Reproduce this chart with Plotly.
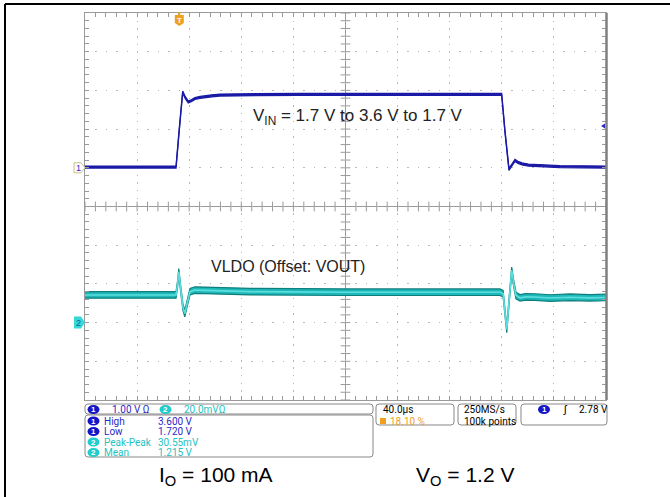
import numpy as np
import plotly.graph_objects as go

W, H = 670, 497
PL, PR, PT, PB = 85, 606, 13, 400   # graticule box in pixels

# ---------------- scope settings ----------------
TIME_DIV_US = 40.0
TRIG_FRAC = 0.181
T_LEFT = -TRIG_FRAC * 10 * TIME_DIV_US
T_RIGHT = T_LEFT + 10 * TIME_DIV_US
T_CENTER = (T_LEFT + T_RIGHT) / 2

CH1_SCALE, CH1_OFFSET, CH1_POS = 1.0, 1.7, 1.0      # V/div, V, div
CH2_SCALE, CH2_OFFSET, CH2_POS = 0.02, 1.2, -3.0
TRIG_LEVEL = 2.78

# ---------------- data ----------------
ch1_t = [-72.4, -2.5, 0.0, 2.6, 4.5, 6.9, 9.5, 12.0, 16.0, 19.7, 25.0, 31.2, 40.0,
         54.3, 92.7, 150.0, 200.0, 247.5, 250.0, 253.1, 255.5, 257.7, 260.0,
         263.1, 268.0, 276.9, 292.3, 310.0, 327.6]
ch1_v = [1.72, 1.72, 2.70, 3.66, 3.52, 3.40, 3.44, 3.49, 3.52, 3.54, 3.56, 3.58, 3.585,
         3.59, 3.60, 3.60, 3.60, 3.60, 2.65, 1.66, 1.78, 1.89, 1.84,
         1.80, 1.77, 1.75, 1.73, 1.725, 1.72]

ch2_t = [-72.4, -30.0, -2.5, -1.3, -0.4, 1.3, 2.8, 4.2, 5.6, 7.0, 8.2, 12.0, 23.6,
         54.3, 127.2, 200.0, 246.2, 248.6, 250.0, 251.4, 253.3, 255.2, 256.8,
         258.5, 261.6, 266.0, 273.1, 284.6, 300.0, 315.3, 327.6]
ch2_v = [1.2143, 1.2145, 1.2143, 1.2200, 1.2262, 1.2160, 1.2080, 1.2047, 1.2085, 1.2135,
         1.2160, 1.2168, 1.2165, 1.2160, 1.2157, 1.2157, 1.2157, 1.2150, 1.2060, 1.1965,
         1.2120, 1.2270, 1.2200, 1.2140, 1.2128, 1.2133, 1.2132, 1.2127, 1.2131, 1.2128, 1.2130]

# readout values
ch1_scale_txt = "1.00 V"
ch2_scale_txt = "20.0mV"
meas_names = ["High", "Low", "Peak-Peak", "Mean"]
meas_ch = [1, 1, 2, 2]
meas_vals = ["3.600 V", "1.720 V", "30.55mV", "1.215 V"]
timebase_txt = "40.0µs"
trig_pos_txt = "18.10 %"
rate_txt = "250MS/s"
points_txt = "100k points"
trig_lvl_txt = "2.78 V"

# styles
CH1_BAND = 0.025     # V, half-thickness of trace fuzz
CH2_BAND = 0.0017    # V
BLUE = "#1a1aa6"
BLUE_T = "#2a2ac8"
CYAN_T = "#1fc2c2"
ORANGE = "#f0a020"
GRID = "#b8b8b8"
AXC = "#9a9a9a"
RFONT = "Roboto, Liberation Sans"


def px(x):
    return x / W


def py(y):
    return 1 - y / H


fig = go.Figure()

# center cross ticks (graticule decoration)
xt = np.arange(T_LEFT, T_RIGHT + 1e-6, TIME_DIV_US / 5)
y_center_ch1 = CH1_OFFSET - CH1_POS * CH1_SCALE
fig.add_trace(go.Scatter(x=xt, y=[y_center_ch1] * len(xt), mode="markers",
                         marker=dict(symbol="line-ns", size=7, line=dict(color=AXC, width=1)),
                         hoverinfo="skip", showlegend=False))
y_lo = CH1_OFFSET + (-5 - CH1_POS) * CH1_SCALE
y_hi = CH1_OFFSET + (5 - CH1_POS) * CH1_SCALE
yt = np.arange(y_lo, y_hi + 1e-6, CH1_SCALE / 5)
fig.add_trace(go.Scatter(x=[T_CENTER] * len(yt), y=yt, mode="markers",
                         marker=dict(symbol="line-ew", size=7, line=dict(color=AXC, width=1)),
                         hoverinfo="skip", showlegend=False))

# Channel 2: noise envelope band + bright centre
c2 = np.array(ch2_v)
fig.add_trace(go.Scatter(x=ch2_t, y=c2 - CH2_BAND, yaxis="y2", mode="lines",
                         line=dict(color="#0e7e7e", width=1.2), hoverinfo="skip", showlegend=False))
fig.add_trace(go.Scatter(x=ch2_t, y=c2 + CH2_BAND, yaxis="y2", mode="lines", fill="tonexty",
                         fillcolor="#1fb8b8",
                         line=dict(color="#0e7e7e", width=1.2), hoverinfo="skip", showlegend=False))
fig.add_trace(go.Scatter(x=ch2_t, y=c2, yaxis="y2", mode="lines",
                         line=dict(color="#5cdede", width=1.6), hoverinfo="skip", showlegend=False))

# Channel 1
c1 = np.array(ch1_v)
fig.add_trace(go.Scatter(x=ch1_t, y=c1 - CH1_BAND, mode="lines",
                         line=dict(color=BLUE, width=1.3), hoverinfo="skip", showlegend=False))
fig.add_trace(go.Scatter(x=ch1_t, y=c1 + CH1_BAND, mode="lines", fill="tonexty", fillcolor=BLUE,
                         line=dict(color=BLUE, width=1.3), hoverinfo="skip", showlegend=False))

fig.update_layout(
    width=W, height=H, autosize=False,
    margin=dict(l=0, r=0, t=0, b=0),
    paper_bgcolor="white", plot_bgcolor="white",
    showlegend=False,
    xaxis=dict(domain=[px(PL), px(PR)], range=[T_LEFT, T_RIGHT],
               tick0=T_LEFT, dtick=TIME_DIV_US,
               showgrid=True, gridcolor=GRID, gridwidth=1.2, griddash="1.4px,6.3px",
               zeroline=False, showticklabels=False,
               showline=True, linecolor=AXC, linewidth=1, mirror="allticks",
               ticks="inside", ticklen=4, tickcolor=AXC,
               minor=dict(dtick=TIME_DIV_US / 5, tick0=T_LEFT, ticks="inside",
                          ticklen=4, tickcolor=AXC, showgrid=False)),
    yaxis=dict(domain=[py(PB), py(PT)], range=[y_lo, y_hi],
               tick0=y_lo, dtick=CH1_SCALE,
               showgrid=True, gridcolor=GRID, gridwidth=1.2, griddash="1.4px,9px",
               zeroline=False, showticklabels=False,
               showline=True, linecolor=AXC, linewidth=1, mirror="allticks",
               ticks="inside", ticklen=4, tickcolor=AXC,
               minor=dict(dtick=CH1_SCALE / 5, tick0=y_lo, ticks="inside",
                          ticklen=4, tickcolor=AXC, showgrid=False)),
    yaxis2=dict(overlaying="y", range=[CH2_OFFSET + (-5 - CH2_POS) * CH2_SCALE,
                                       CH2_OFFSET + (5 - CH2_POS) * CH2_SCALE],
                visible=False),
)

shapes = []
annos = []

# center cross lines
shapes.append(dict(type="line", xref="x", yref="y", x0=T_LEFT, x1=T_RIGHT,
                   y0=y_center_ch1, y1=y_center_ch1, line=dict(color=AXC, width=1), layer="below"))
shapes.append(dict(type="line", xref="x", yref="y", x0=T_CENTER, x1=T_CENTER,
                   y0=y_lo, y1=y_hi, line=dict(color=AXC, width=1), layer="below"))
# heavier right edge
shapes.append(dict(type="line", xref="paper", yref="paper", x0=px(PR + 0.5), x1=px(PR + 0.5),
                   y0=py(PT), y1=py(PB), line=dict(color="#808080", width=2.5)))

# outer frame
shapes.append(dict(type="line", xref="paper", yref="paper", x0=px(5), x1=1, y0=py(4), y1=py(4),
                   line=dict(color="black", width=2)))
shapes.append(dict(type="line", xref="paper", yref="paper", x0=px(5), x1=px(5), y0=py(4), y1=0,
                   line=dict(color="black", width=2)))


def path_px(pts, close=True):
    s = "M " + " L ".join(f"{px(a):.5f},{py(b):.5f}" for a, b in pts)
    return s + (" Z" if close else "")


def rrect(x0, y0, x1, y1, r=3, color="#888", width=1):
    def P(a, b):
        return f"{px(a):.5f},{py(b):.5f}"
    d = (f"M {P(x0 + r, y0)} L {P(x1 - r, y0)} Q {P(x1, y0)} {P(x1, y0 + r)} "
         f"L {P(x1, y1 - r)} Q {P(x1, y1)} {P(x1 - r, y1)} L {P(x0 + r, y1)} "
         f"Q {P(x0, y1)} {P(x0, y1 - r)} L {P(x0, y0 + r)} Q {P(x0, y0)} {P(x0 + r, y0)} Z")
    shapes.append(dict(type="path", xref="paper", yref="paper", path=d,
                       line=dict(color=color, width=width), fillcolor="rgba(0,0,0,0)"))


def badge(cx, cy, txt, fill, w=12, h=9, tcol="white"):
    shapes.append(dict(type="circle", xref="paper", yref="paper",
                       x0=px(cx - w / 2), x1=px(cx + w / 2), y0=py(cy + h / 2), y1=py(cy - h / 2),
                       fillcolor=fill, line=dict(color=fill, width=0)))
    annos.append(dict(xref="paper", yref="paper", x=px(cx), y=py(cy), text=f"<b>{txt}</b>",
                      showarrow=False, xanchor="center", yanchor="middle",
                      font=dict(family="Liberation Sans", size=8, color=tcol)))


def txt(x, y, s, color, size=10, family=RFONT, anchor="left"):
    annos.append(dict(xref="paper", yref="paper", x=px(x), y=py(y), text=s, showarrow=False,
                      xanchor=anchor, yanchor="middle", font=dict(family=family, size=size, color=color)))


# trigger position marker (top)
tx = PL + (0 - T_LEFT) / (T_RIGHT - T_LEFT) * (PR - PL)
shapes.append(dict(type="path", xref="paper", yref="paper",
                   path=path_px([(tx - 4.5, 15), (tx + 4.5, 15), (tx + 4.5, 23), (tx, 26), (tx - 4.5, 23)]),
                   fillcolor=ORANGE, line=dict(color=ORANGE, width=0)))
shapes.append(dict(type="line", xref="paper", yref="paper", x0=px(tx), x1=px(tx), y0=py(12), y1=py(15),
                   line=dict(color=ORANGE, width=2)))
annos.append(dict(xref="paper", yref="paper", x=px(tx), y=py(20), text="<b>T</b>", showarrow=False,
                  xanchor="center", yanchor="middle", font=dict(family="Liberation Sans", size=8, color="white")))


def ypix_ch1(v):
    div = CH1_POS + (v - CH1_OFFSET) / CH1_SCALE
    return PT + (5 - div) / 10 * (PB - PT)


# channel position markers (left)
c1y = ypix_ch1(CH1_OFFSET)
shapes.append(dict(type="path", xref="paper", yref="paper",
                   path=path_px([(74, c1y - 5), (81, c1y - 5), (85, c1y), (81, c1y + 5), (74, c1y + 5)]),
                   fillcolor="white", line=dict(color="#c8c090", width=1)))
annos.append(dict(xref="paper", yref="paper", x=px(78), y=py(c1y), text="1", showarrow=False,
                  xanchor="center", yanchor="middle", font=dict(family="Liberation Sans", size=9, color=BLUE_T)))
c2y = PT + (5 - CH2_POS) / 10 * (PB - PT)
shapes.append(dict(type="path", xref="paper", yref="paper",
                   path=path_px([(74, c2y - 6), (81, c2y - 6), (85, c2y), (81, c2y + 6), (74, c2y + 6)]),
                   fillcolor="#38d8d8", line=dict(color="#38d8d8", width=0)))
annos.append(dict(xref="paper", yref="paper", x=px(78.5), y=py(c2y), text="2", showarrow=False,
                  xanchor="center", yanchor="middle", font=dict(family="Liberation Sans", size=9, color="#1060a0")))

# trigger level arrow (right)
tly = ypix_ch1(TRIG_LEVEL)
shapes.append(dict(type="path", xref="paper", yref="paper",
                   path=path_px([(601, tly), (605, tly - 2.5), (605, tly + 2.5)]),
                   fillcolor=BLUE_T, line=dict(color=BLUE_T, width=0)))

# waveform labels
annos.append(dict(xref="paper", yref="paper", x=px(251), y=py(117),
                  text="V<sub>IN</sub> = 1.7 V to 3.6 V to 1.7 V", showarrow=False,
                  xanchor="left", yanchor="middle",
                  font=dict(family="Liberation Sans", size=17, color="#222")))
annos.append(dict(xref="paper", yref="paper", x=px(209), y=py(266),
                  text="VLDO (Offset: VOUT)", showarrow=False, xanchor="left", yanchor="middle",
                  font=dict(family="Liberation Sans", size=16, color="#222")))
annos.append(dict(xref="paper", yref="paper", x=px(157), y=py(476),
                  text="I<sub>O</sub> = 100 mA", showarrow=False, xanchor="left", yanchor="middle",
                  font=dict(family="Liberation Sans", size=21, color="black")))
annos.append(dict(xref="paper", yref="paper", x=px(414), y=py(476),
                  text="V<sub>O</sub> = 1.2 V", showarrow=False, xanchor="left", yanchor="middle",
                  font=dict(family="Liberation Sans", size=21, color="black")))

# ---------------- readout panel ----------------
rrect(85, 404, 373, 414, r=3)
rrect(85, 415, 373, 457, r=3)
rrect(376, 404, 454, 425, r=3)
rrect(458, 404, 516, 425, r=3)
rrect(521, 404, 607, 425, r=3)

row1 = 409.5
badge(93.5, row1, "1", "#1515c8")
txt(110, row1, ch1_scale_txt + " Ω", BLUE_T)
badge(165.5, row1, "2", "#20cccc")
txt(182, row1, ch2_scale_txt + "Ω", CYAN_T)

rows_y = [421, 431.5, 442, 452.5]
for ry, name, ch, val in zip(rows_y, meas_names, meas_ch, meas_vals):
    col = BLUE_T if ch == 1 else CYAN_T
    badge(93.5, ry, str(ch), "#1515c8" if ch == 1 else "#20cccc")
    txt(102, ry, name, col)
    txt(156, ry, val, col)

txt(381, row1, timebase_txt, "black")
shapes.append(dict(type="rect", xref="paper", yref="paper", x0=px(380), x1=px(386),
                   y0=py(424), y1=py(418), fillcolor=ORANGE, line=dict(width=0)))
txt(388, 421, trig_pos_txt, ORANGE)
txt(462, row1, rate_txt, "black")
txt(462, 421, points_txt, "black")
badge(544, row1, "1", "#1515c8")
txt(561, row1, "ʃ", "black", size=11)
txt(577, row1, trig_lvl_txt, "black")

fig.update_layout(shapes=shapes, annotations=annos)
fig.write_html("out.html", config={"displayModeBar": False},
               post_script="document.body.style.margin='0';")
